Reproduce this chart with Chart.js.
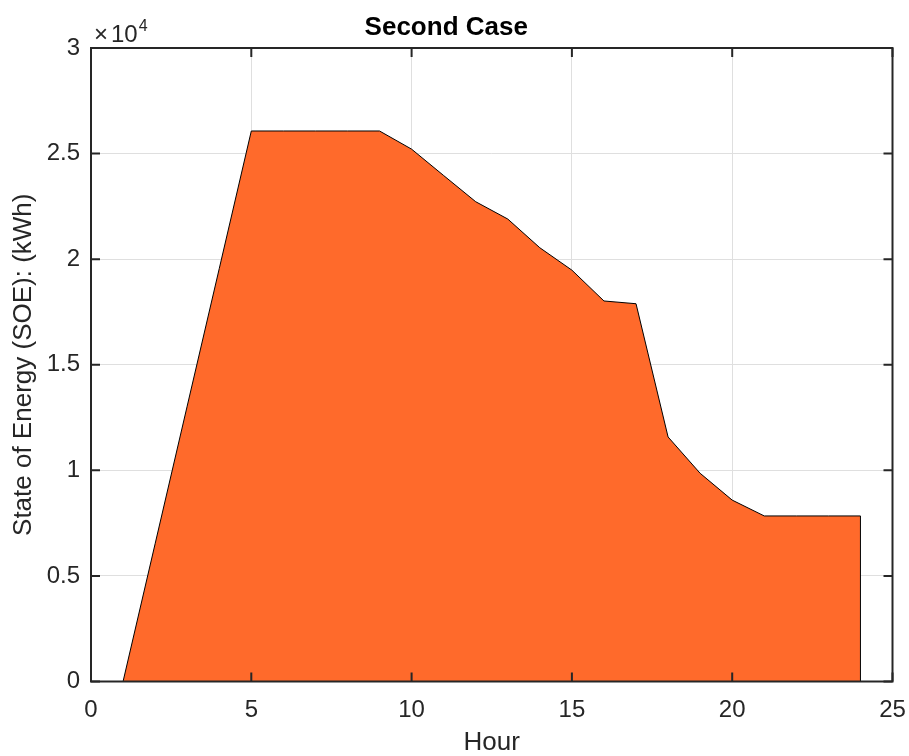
<!DOCTYPE html>
<html>
<head>
<meta charset="utf-8">
<script src="https://cdn.jsdelivr.net/npm/chart.js@4/dist/chart.umd.min.js"></script>
<style>
  html, body { margin: 0; padding: 0; background: #fff; }
  canvas { display: block; }
</style>
</head>
<body>
<canvas id="soeChart" width="909" height="756"></canvas>
<script>
// hourly state of energy
const hours = [1, 2, 3, 4, 5, 6, 7, 8, 9, 10, 11, 12, 13, 14, 15, 16, 17, 18, 19, 20, 21, 22, 23, 24];
const soe = [0, 6520, 13040, 19550, 26070, 26070, 26070, 26070, 26070, 25210, 23960, 22720, 21900, 20540,
  19480, 18020, 17890, 11580, 9860, 8590, 7840, 7840, 7840, 7840];
const xTicks = [0, 5, 10, 15, 20, 25];
const yTicks = [0, 5000, 10000, 15000, 20000, 25000, 30000];

const FONT = "'Liberation Sans', Arial, Helvetica, sans-serif";
const INK = '#262626';

// MATLAB-ish box: frame, inward ticks on all four sides, x10^4 multiplier, closing edge of the area
const matlabBox = {
  id: 'matlabBox',
  afterDatasetsDraw(chart) {
    const { ctx } = chart;
    const meta = chart.getDatasetMeta(0);
    const last = meta.data[meta.data.length - 1];
    const y0 = chart.scales.y.getPixelForValue(0);
    ctx.save();
    ctx.strokeStyle = '#000';
    ctx.lineWidth = 1;
    ctx.beginPath();
    ctx.moveTo(last.x, last.y);
    ctx.lineTo(last.x, y0);
    ctx.stroke();
    ctx.restore();
  },
  afterDraw(chart) {
    const { ctx, chartArea: a, scales } = chart;
    const tl = 9;
    ctx.save();
    ctx.strokeStyle = INK;
    ctx.lineWidth = 2;
    ctx.strokeRect(a.left, a.top, a.right - a.left, a.bottom - a.top);
    ctx.beginPath();
    xTicks.forEach(v => {
      const px = scales.x.getPixelForValue(v);
      ctx.moveTo(px, a.bottom); ctx.lineTo(px, a.bottom - tl);
      ctx.moveTo(px, a.top); ctx.lineTo(px, a.top + tl);
    });
    yTicks.forEach(v => {
      const py = scales.y.getPixelForValue(v);
      ctx.moveTo(a.left, py); ctx.lineTo(a.left + tl, py);
      ctx.moveTo(a.right, py); ctx.lineTo(a.right - tl, py);
    });
    ctx.stroke();

    // exponent label
    ctx.fillStyle = INK;
    ctx.textBaseline = 'alphabetic';
    ctx.textAlign = 'left';
    ctx.font = '24px ' + FONT;
    const bx = a.left + 3, by = a.top - 6;
    ctx.fillText('\u00d7', bx, by);
    const wx = ctx.measureText('\u00d7').width;
    ctx.fillText('10', bx + wx + 3, by);
    const w = wx + 3 + ctx.measureText('10').width;
    ctx.font = '16px ' + FONT;
    ctx.fillText('4', bx + w + 1, by - 11);
    ctx.restore();
  }
};

new Chart(document.getElementById('soeChart').getContext('2d'), {
  type: 'line',
  data: {
    datasets: [{
      label: 'SOE',
      data: hours.map((h, i) => ({ x: h, y: soe[i] })),
      backgroundColor: '#FF6A2B',
      borderColor: '#000',
      borderWidth: 1,
      pointRadius: 0,
      tension: 0,
      fill: 'origin'
    }]
  },
  options: {
    responsive: false,
    animation: false,
    layout: { padding: { top: 0, right: 16.5, bottom: 0, left: 0 } },
    plugins: {
      legend: { display: false },
      tooltip: { enabled: false },
      title: {
        display: true,
        text: 'Second Case',
        color: '#000',
        font: { family: FONT, size: 26, weight: 'bold', lineHeight: 1.2 },
        padding: { top: 12, bottom: 4.8 }
      }
    },
    scales: {
      x: {
        type: 'linear',
        min: 0,
        max: 25,
        afterFit: (s) => { s.height = 74.5; s.paddingLeft = 0; s.paddingRight = 0; },
        afterBuildTicks: (s) => { s.ticks = xTicks.map(v => ({ value: v })); },
        ticks: { color: INK, font: { family: FONT, size: 24 }, padding: 14, maxRotation: 0 },
        grid: { color: '#dfdfdf', lineWidth: 1, drawTicks: false },
        border: { display: false },
        title: {
          display: true,
          text: 'Hour',
          color: INK,
          font: { family: FONT, size: 26, lineHeight: 1 },
          padding: { top: 0, bottom: 0 }
        }
      },
      y: {
        min: 0,
        max: 30000,
        afterFit: (s) => { s.width = 91; },
        afterBuildTicks: (s) => { s.ticks = yTicks.map(v => ({ value: v })); },
        ticks: {
          color: INK,
          font: { family: FONT, size: 24 },
          padding: 11,
          callback: (v) => String(v / 10000)
        },
        grid: { color: '#dfdfdf', lineWidth: 1, drawTicks: false },
        border: { display: false },
        title: {
          display: true,
          text: 'State of Energy (SOE): (kWh)',
          color: INK,
          font: { family: FONT, size: 26, lineHeight: 1 },
          padding: { top: 11, bottom: 0 }
        }
      }
    }
  },
  plugins: [matlabBox]
});
</script>
</body>
</html>
